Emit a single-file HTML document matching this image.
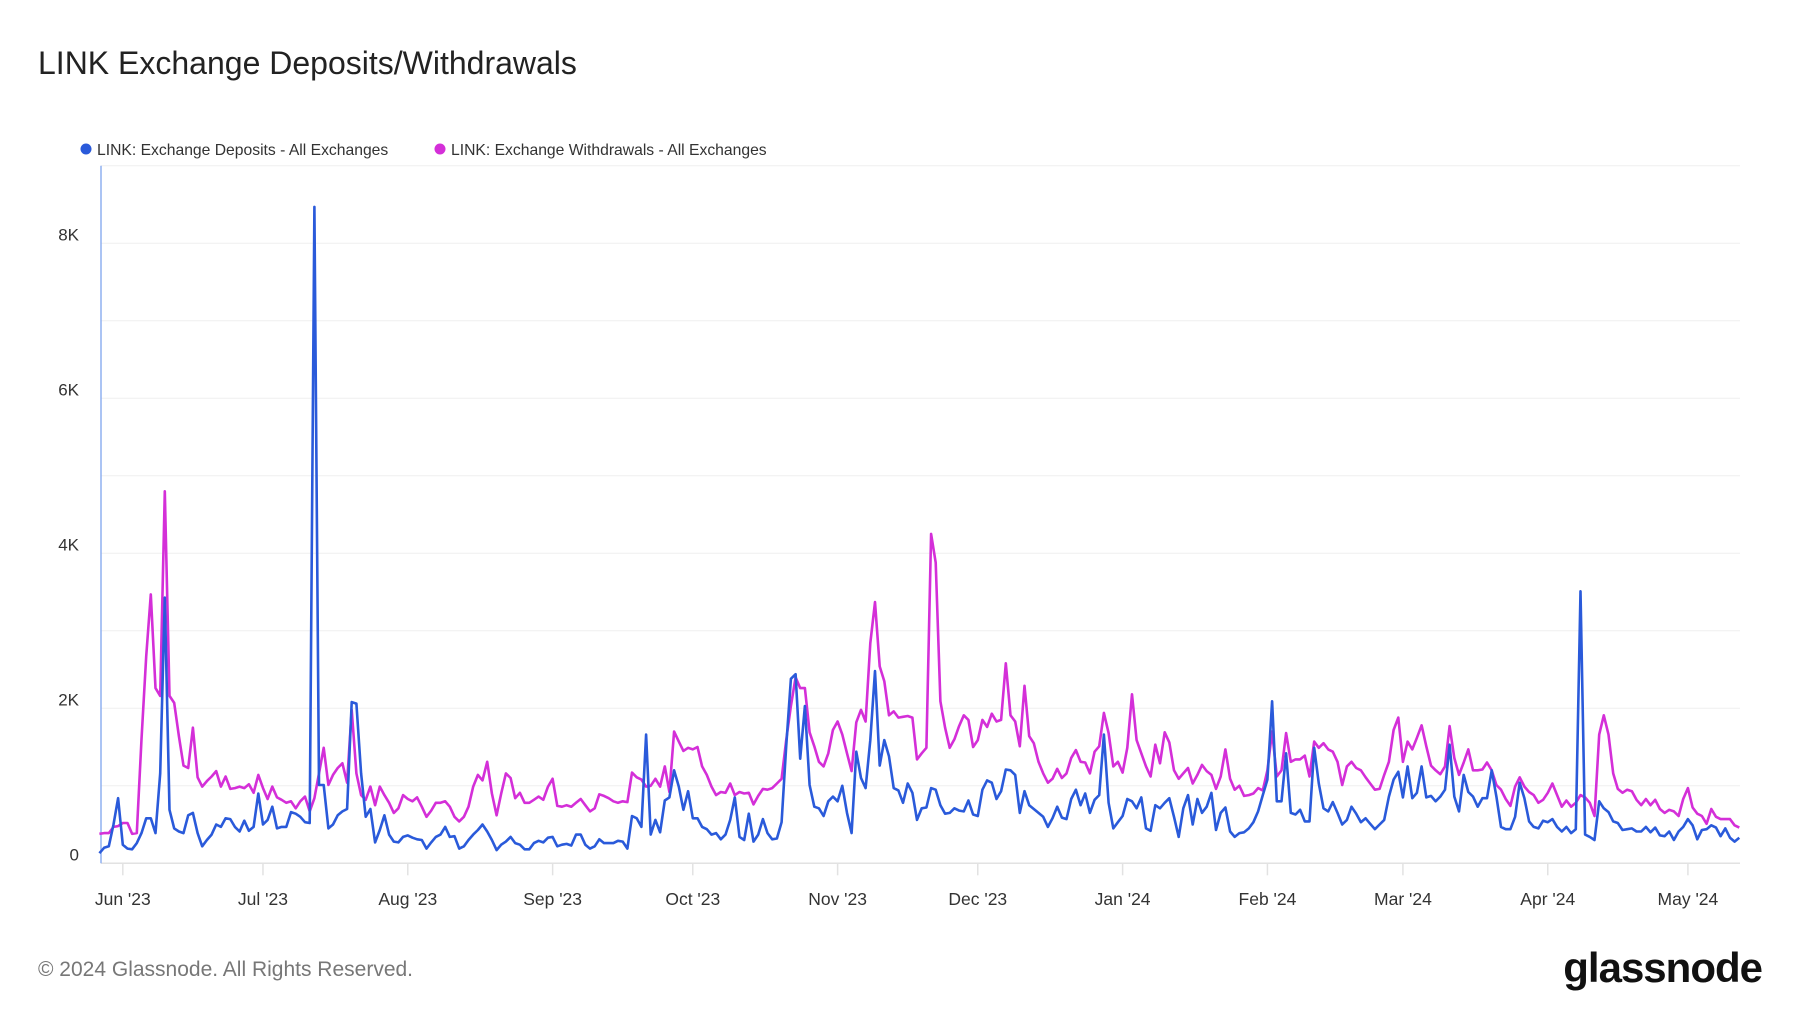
<!DOCTYPE html>
<html><head><meta charset="utf-8">
<style>
html,body{margin:0;padding:0;background:#fff;}
body{width:1800px;height:1013px;overflow:hidden;position:relative;font-family:"Liberation Sans",sans-serif;}
svg{position:absolute;left:0;top:0;}
</style></head>
<body>
<svg id="chart" width="1800" height="1013">
<text x="38" y="74" font-size="32" fill="#222">LINK Exchange Deposits/Withdrawals</text>
<g>
<g><circle cx="86" cy="149" r="5.5" fill="#2a5ada"/><text x="97" y="155" font-size="15.7" fill="#333">LINK: Exchange Deposits - All Exchanges</text></g>
<g><circle cx="440" cy="149" r="5.5" fill="#d42fd8"/><text x="451" y="155" font-size="15.7" fill="#333">LINK: Exchange Withdrawals - All Exchanges</text></g>
</g>
<g id="grid"></g>
<g id="yaxis"></g>
<g id="xaxis"></g>
<g id="series"></g>
<text x="38" y="976" font-size="21" fill="#777">© 2024 Glassnode. All Rights Reserved.</text>
<text x="1762" y="982" font-size="42" font-weight="bold" fill="#111" text-anchor="end" letter-spacing="-1">glassnode</text>
</svg>
<script>
const yTicks=[0,2,4,6,8];
const yTickLabels=["0","2K","4K","6K","8K"];
const xTickDays=[0,30,61,92,122,153,183,214,245,274,305,335];
const xTickLabels=["Jun '23","Jul '23","Aug '23","Sep '23","Oct '23","Nov '23","Dec '23","Jan '24","Feb '24","Mar '24","Apr '24","May '24"];
const startDay=-5;
const deposits=[0.13,0.2,0.22,0.5,0.84,
0.24,0.19,0.18,0.26,0.39,0.58,0.58,0.39,1.16,3.43,0.69,0.45,0.41,0.39,0.62,0.65,0.39,0.22,0.3,0.37,0.5,0.47,0.58,0.57,0.47,0.41,0.55,0.42,0.47,0.9,0.5,0.56,0.73,0.45,0.47,0.47,0.66,0.64,0.6,0.53,
0.52,8.47,
1.01,1.01,0.45,0.5,0.62,0.67,0.7,2.08,2.06,1.16,0.6,0.7,0.27,0.43,0.62,0.37,0.28,0.27,0.34,0.36,0.33,0.31,0.3,0.19,0.27,0.34,0.37,0.47,0.34,0.35,0.19,0.22,0.3,0.37,0.43,0.5,0.41,0.3,0.17,0.24,0.28,0.34,
0.26,0.24,0.18,0.18,0.26,0.29,0.27,0.33,0.34,0.22,0.24,0.25,0.23,0.37,0.37,0.24,0.19,0.22,0.31,0.26,0.26,0.26,0.29,0.28,0.19,0.61,0.58,0.47,1.66,0.37,0.56,0.4,0.81,0.85,1.2,0.99,0.69,0.93,0.58,0.58,
0.47,0.44,0.37,0.39,0.31,0.37,0.56,0.85,0.34,0.3,0.64,0.28,0.37,0.57,0.39,0.31,0.32,0.53,1.51,2.38,2.44,1.35,2.03,1.01,0.73,0.71,0.61,0.8,0.86,0.8,1.0,0.65,0.39,1.44,1.1,0.97,1.59,2.48,1.26,1.59,1.38,0.97,0.94,
0.78,1.03,0.91,0.56,0.71,0.72,0.97,0.95,0.75,0.64,0.65,0.71,0.68,0.67,0.81,0.63,0.61,0.95,1.07,1.04,0.83,0.93,1.21,1.2,1.14,0.65,0.93,0.75,0.7,0.65,0.6,0.47,0.58,0.73,0.59,0.57,0.83,0.95,0.75,0.9,0.65,0.82,0.88,
1.66,0.78,0.45,0.53,0.61,0.83,0.8,0.71,0.85,0.45,0.42,0.75,0.71,0.78,0.84,0.6,0.34,0.71,0.88,0.5,0.83,0.65,0.73,0.91,0.43,0.65,0.72,0.41,0.34,0.39,0.4,0.45,0.53,0.67,0.88,1.08,2.09,0.8,0.8,1.42,0.65,0.63,
0.69,0.54,0.54,1.49,1.03,0.71,0.67,0.79,0.65,0.5,0.56,0.73,0.64,0.53,0.58,0.51,0.44,0.5,0.56,0.86,1.08,1.18,0.85,1.25,0.84,0.91,1.25,0.85,0.87,0.8,0.86,0.95,1.53,0.86,0.67,1.14,0.92,0.86,0.73,0.84,0.84,1.2,0.86,
0.47,0.44,0.44,0.6,1.04,0.84,0.54,0.47,0.45,0.55,0.53,0.57,0.47,0.41,0.47,0.39,0.44,3.51,0.37,0.34,0.3,0.8,0.71,0.66,0.54,0.52,0.43,0.44,0.45,0.41,
0.41,0.47,0.4,0.46,0.36,0.35,0.41,0.3,0.41,0.47,0.57,0.49,0.31,0.43,0.44,0.49,0.46,0.35,0.45,0.33,0.28,0.33];
const withdrawals=[0.38,0.39,0.39,0.47,0.48,
0.52,0.52,0.38,0.39,1.6,2.67,3.47,2.26,2.16,4.8,2.16,2.07,1.64,1.26,1.23,1.75,1.11,0.99,1.06,1.12,1.19,0.99,1.12,0.96,0.97,0.99,0.97,1.02,0.91,1.14,0.97,0.83,0.99,0.85,0.82,0.78,0.8,0.71,0.8,0.86,
0.67,0.84,1.16,1.49,1.01,1.14,1.23,1.29,1.04,1.98,1.16,0.88,0.82,0.99,0.75,0.99,0.88,0.78,0.65,0.71,0.88,0.83,0.8,0.85,0.73,0.6,0.68,0.78,0.78,0.8,0.73,0.6,0.54,0.6,0.73,0.99,1.14,1.07,1.31,0.9,0.62,0.9,1.16,1.1,
0.84,0.91,0.78,0.78,0.82,0.86,0.82,0.99,1.09,0.74,0.73,0.75,0.73,0.78,0.83,0.75,0.67,0.71,0.89,0.87,0.84,0.8,0.78,0.8,0.79,1.17,1.11,1.08,0.99,1.0,1.09,0.99,1.25,0.92,1.7,1.57,1.45,1.49,1.47,1.5,
1.25,1.14,0.99,0.88,0.92,0.91,1.03,0.88,0.92,0.9,0.91,0.76,0.87,0.96,0.95,0.97,1.03,1.09,1.59,2.03,2.4,2.26,2.26,1.69,1.51,1.31,1.25,1.42,1.72,1.83,1.66,1.42,1.19,1.82,1.98,1.83,2.84,3.37,2.54,2.35,1.91,1.96,1.88,
1.89,1.9,1.88,1.34,1.42,1.49,4.25,3.88,2.09,1.75,1.49,1.6,1.77,1.91,1.85,1.5,1.59,1.85,1.76,1.93,1.83,1.85,2.58,1.91,1.83,1.51,2.29,1.64,1.55,1.31,1.16,1.04,1.09,1.22,1.1,1.16,1.36,1.46,1.31,1.3,1.16,1.44,1.51,
1.94,1.68,1.25,1.31,1.17,1.49,2.18,1.59,1.42,1.25,1.12,1.53,1.29,1.69,1.56,1.2,1.09,1.16,1.23,1.03,1.14,1.27,1.19,1.14,0.96,1.12,1.47,1.09,0.95,1.0,0.87,0.88,0.9,0.97,0.94,1.2,1.7,1.12,1.2,1.68,1.31,1.34,
1.34,1.39,1.12,1.57,1.49,1.55,1.47,1.44,1.31,1.01,1.25,1.31,1.23,1.2,1.11,1.03,0.95,0.96,1.14,1.31,1.72,1.88,1.31,1.57,1.47,1.62,1.78,1.51,1.26,1.2,1.15,1.25,1.77,1.36,1.14,1.3,1.47,1.2,1.2,1.21,1.3,1.2,1.01,
0.95,0.83,0.74,0.99,1.11,0.99,0.92,0.88,0.78,0.82,0.91,1.03,0.88,0.73,0.81,0.73,0.78,0.88,0.85,0.78,0.61,1.66,1.91,1.66,1.16,0.96,0.91,0.95,0.93,0.82,
0.75,0.83,0.75,0.82,0.7,0.65,0.69,0.67,0.61,0.83,0.97,0.72,0.64,0.61,0.51,0.7,0.6,0.57,0.57,0.57,0.49,0.46];

const NS="http://www.w3.org/2000/svg";
const X0=122.8, DX=4.672, Y0=863.3, DY=77.5, LEFT=101, RIGHT=1740;
function xs(d){return X0+d*DX;}
function ys(v){return Y0-v*DY;}
function mk(tag,attrs){const e=document.createElementNS(NS,tag);for(const k in attrs)e.setAttribute(k,attrs[k]);return e;}

const grid=document.getElementById('grid');
for(let k=1;k<=9;k++){
  const l=mk('line',{x1:LEFT,x2:RIGHT,y1:ys(k),y2:ys(k),stroke:'#efefef','stroke-width':1});
  
  
  grid.appendChild(l);
}
const base=mk('line',{x1:LEFT,x2:RIGHT,y1:Y0,y2:Y0,stroke:'#e2e2e2','stroke-width':1.5});


grid.appendChild(base);
const la=mk('line',{x1:LEFT,x2:LEFT,y1:ys(9),y2:Y0,stroke:'#8fb0f0','stroke-width':1.5});


grid.appendChild(la);

const ya=document.getElementById('yaxis');
yTicks.forEach((v,i)=>{
  const t=mk('text',{x:79,y:ys(v)-3,'font-size':17,fill:'#333','text-anchor':'end'});
  t.textContent=yTickLabels[i];
  
  
  ya.appendChild(t);
});
const xa=document.getElementById('xaxis');
xTickDays.forEach((d,i)=>{
  const tk=mk('line',{x1:xs(d),x2:xs(d),y1:Y0,y2:Y0+12,stroke:'#e2e2e2','stroke-width':1.5});
  
  
  xa.appendChild(tk);
  const t=mk('text',{x:xs(d),y:905,'font-size':17.5,fill:'#333','text-anchor':'middle'});
  t.textContent=xTickLabels[i];
  
  
  xa.appendChild(t);
});

function path(arr){return arr.map((v,i)=>(i?'L':'M')+xs(startDay+i).toFixed(1)+','+ys(v).toFixed(1)).join('');}
const ser=document.getElementById('series');
const pw=mk('path',{d:path(withdrawals),fill:'none',stroke:'#d42fd8','stroke-width':2.6,'stroke-linejoin':'round'});


ser.appendChild(pw);
const pd=mk('path',{d:path(deposits),fill:'none',stroke:'#2a5ada','stroke-width':2.6,'stroke-linejoin':'round'});


ser.appendChild(pd);
</script>
</body></html>
